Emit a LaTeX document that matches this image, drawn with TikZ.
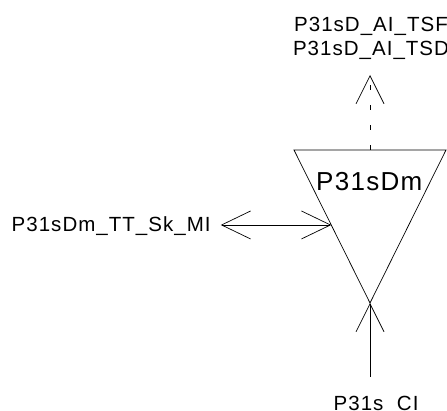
\documentclass[tikz,border=0pt]{standalone}
\usepackage{fontspec}
\setmainfont{Liberation Sans}
\usetikzlibrary{arrows.meta,calc}

\begin{document}
\begin{tikzpicture}[x=1pt, y=-1pt,
    lbl/.style={inner sep=0pt, font=\fontsize{20.5}{24.5}\selectfont\addfontfeatures{LetterSpace=5}},
    big/.style={inner sep=0pt, font=\fontsize{26}{28}\selectfont\addfontfeatures{LetterSpace=5}},
    wire/.style={line width=0.7pt, line cap=butt},
    tip/.style={-{Straight Barb[length=28pt, width=28pt, line width=0.7pt]}},
    both/.style={{Straight Barb[length=29pt, width=28pt, line width=0.7pt]}-{Straight Barb[length=29pt, width=28pt, line width=0.7pt]}}]
  \useasboundingbox (0,0) rectangle (447,411);
  % the triangle block
  \coordinate (tl) at (294,150);
  \coordinate (tr) at (446,150);
  \coordinate (bt) at (370,303);
  \draw[wire] (tl) -- (tr) -- (bt) -- cycle;
  \node[big, anchor=base west] (blk) at (316,190.5) {P31sDm};
  % labels
  \node[lbl, align=center, anchor=north] (out) at (371,16.5) {P31sD\_AI\_TSF\\P31sD\_AI\_TSD};
  \node[lbl, anchor=base west] (mi) at (11.5,232) {P31sDm\_TT\_Sk\_MI};
  \node[lbl, anchor=base west] (ci) at (333.5,410.5) {P31s\_CI};
  \coordinate (top) at ($(tl)!0.5!(tr)$);
  \coordinate (outend) at (370,75);
  \coordinate (inend) at (370,377);
  \coordinate (hit) at ($(tl)!0.49!(bt)$);
  % connectors
  \draw[wire, tip, dash pattern=on 5pt off 15pt] (top) -- (outend);
  \draw[wire, both] ([xshift=10pt]mi.east |- hit) -- (hit);
  \draw[wire, tip] (inend) -- (bt);
\end{tikzpicture}
\end{document}
